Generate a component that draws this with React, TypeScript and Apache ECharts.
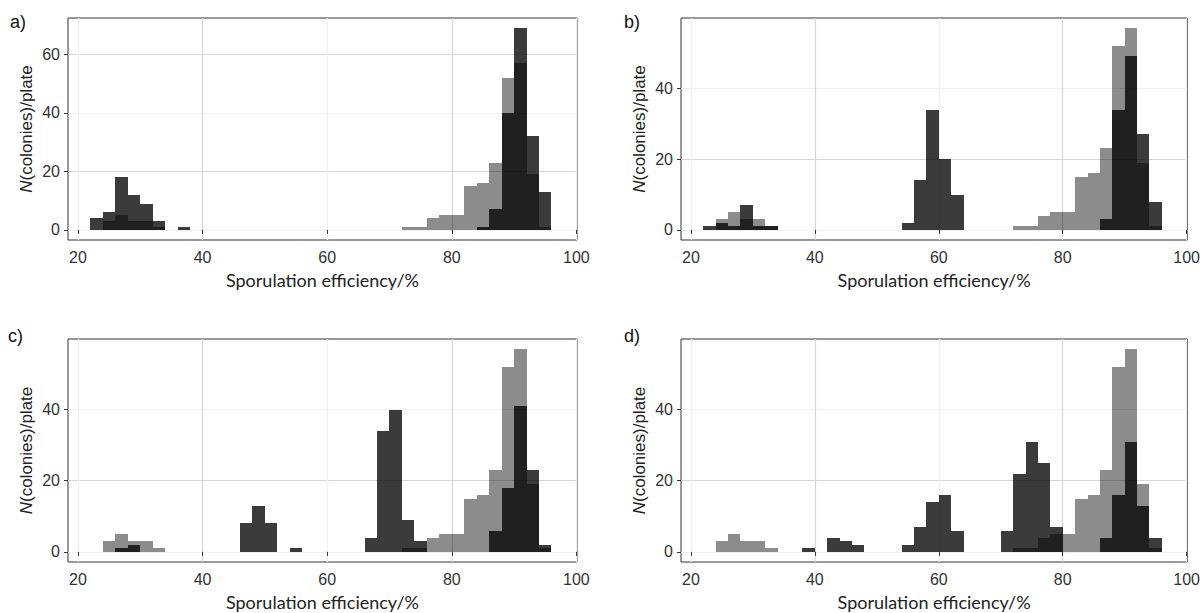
import React, { useEffect, useRef } from 'react';
import * as echarts from 'echarts';

// Histogram bins are 2 % wide; each bin is given by its left edge.
const BIN_WIDTH = 2;

// Reference distribution (light grey), identical in every panel
const referenceBins = [24, 26, 28, 30, 32, 72, 74, 76, 78, 80, 82, 84, 86, 88, 90, 92, 94];
const referenceCounts = [3, 5, 3, 3, 1, 1, 1, 4, 5, 5, 15, 16, 23, 52, 57, 19, 1];

// Panel distributions (dark)
const aBins = [22, 24, 26, 28, 30, 32, 36, 84, 86, 88, 90, 92, 94];
const aCounts = [4, 6, 18, 12, 9, 3, 1, 1, 7, 40, 69, 32, 13];
const bBins = [22, 24, 26, 28, 30, 32, 54, 56, 58, 60, 62, 86, 88, 90, 92, 94];
const bCounts = [1, 2, 1, 7, 1, 1, 2, 14, 34, 20, 10, 3, 34, 49, 27, 8];
const cBins = [26, 28, 46, 48, 50, 54, 66, 68, 70, 72, 74, 86, 88, 90, 92, 94];
const cCounts = [1, 2, 8, 13, 8, 1, 4, 34, 40, 9, 3, 6, 18, 41, 23, 2];
const dBins = [38, 42, 44, 46, 54, 56, 58, 60, 62, 70, 72, 74, 76, 78, 86, 88, 90, 92, 94];
const dCounts = [1, 4, 3, 2, 2, 7, 14, 16, 6, 6, 22, 31, 25, 7, 4, 16, 31, 13, 4];

const panelLabels = ['a)', 'b)', 'c)', 'd)'];
const xTickValues = [20, 40, 60, 80, 100];
const yTickValuesA = [0, 20, 40, 60];
const yTickValuesBCD = [0, 20, 40];
const xTitle = 'Sporulation efficiency/%';
const yTitle = '{it|N}(colonies)/plate';

const X_MIN = 18.4;
const X_MAX = 100.1;

const GREY = 'rgba(0,0,0,0.45)';
const DARK = 'rgba(0,0,0,0.77)';
const MAJOR = '#d6d6d6';
const MINOR = '#f0f0f0';
const BORDER = '#333333';

const layouts = [
  { left: 68, top: 18, width: 509, height: 222 },
  { left: 681, top: 18, width: 509, height: 222 },
  { left: 68, top: 339, width: 509, height: 223 },
  { left: 681, top: 339, width: 509, height: 223 },
];
const labelPos = [
  { x: 10, y: 13 },
  { x: 624, y: 13 },
  { x: 8, y: 327 },
  { x: 624, y: 327 },
];

const panels = [
  { bins: aBins, counts: aCounts, yTicks: yTickValuesA },
  { bins: bBins, counts: bCounts, yTicks: yTickValuesBCD },
  { bins: cBins, counts: cCounts, yTicks: yTickValuesBCD },
  { bins: dBins, counts: dCounts, yTicks: yTickValuesBCD },
];

function toRows(bins: number[], counts: number[]) {
  return bins.map((b, i) => [b, b + BIN_WIDTH, counts[i]]);
}

function rectRenderer(color: string) {
  return (params: any, api: any) => {
    const x0 = api.value(0);
    const x1 = api.value(1);
    const y = api.value(2);
    const p0 = api.coord([x0, y]);
    const p1 = api.coord([x1, 0]);
    const left = Math.round(p0[0]);
    const right = Math.round(p1[0]);
    const top = Math.round(p0[1]);
    const bottom = Math.round(p1[1]);
    return {
      type: 'rect',
      shape: { x: left, y: top, width: right - left, height: bottom - top },
      style: { fill: color },
    };
  };
}

function buildOption() {
  const grid: any[] = [];
  const xAxis: any[] = [];
  const yAxis: any[] = [];
  const series: any[] = [];
  const graphic: any[] = [];

  panels.forEach((p, i) => {
    const L = layouts[i];
    grid.push({
      left: L.left,
      top: L.top,
      width: L.width,
      height: L.height,
      show: true,
      borderColor: BORDER,
      borderWidth: 1,
      backgroundColor: 'transparent',
    });
    xAxis.push({
      gridIndex: i,
      type: 'value',
      min: X_MIN,
      max: X_MAX,
      minInterval: 10,
      maxInterval: 10,
      axisLine: { show: false },
      axisTick: { show: true, length: 4, lineStyle: { color: BORDER }, customValues: xTickValues },
      axisLabel: {
        customValues: xTickValues,
        margin: 9,
        fontSize: 16,
        color: '#333',
        fontFamily: 'Liberation Sans',
      },
      splitLine: { show: true, lineStyle: { color: [MINOR, MAJOR], width: 1.2 } },
      name: xTitle,
      nameLocation: 'middle',
      nameGap: 31,
      nameTextStyle: { fontSize: 18, fontFamily: 'Lato', color: '#222' },
    });
    const maxVal = Math.max(...p.counts, ...referenceCounts);
    yAxis.push({
      gridIndex: i,
      type: 'value',
      min: -0.05 * maxVal,
      max: 1.05 * maxVal,
      minInterval: 10,
      maxInterval: 10,
      axisLine: { show: false },
      axisTick: { show: true, length: 4, lineStyle: { color: BORDER }, customValues: p.yTicks },
      axisLabel: {
        customValues: p.yTicks,
        margin: 8,
        fontSize: 16,
        color: '#333',
        fontFamily: 'Liberation Sans',
      },
      splitLine: { show: true, lineStyle: { color: [MINOR, MAJOR], width: 1.2 } },
      name: yTitle,
      nameLocation: 'middle',
      nameGap: 33,
      nameTextStyle: {
        fontSize: 17,
        fontFamily: 'Liberation Sans',
        color: '#222',
        rich: {
          it: { fontSize: 17, fontFamily: 'Liberation Sans', fontStyle: 'italic', color: '#222' },
        },
      },
    });
    series.push({
      type: 'custom',
      name: 'reference',
      xAxisIndex: i,
      yAxisIndex: i,
      data: toRows(referenceBins, referenceCounts),
      encode: { x: [0, 1], y: 2 },
      renderItem: rectRenderer(GREY),
      silent: true,
    });
    series.push({
      type: 'custom',
      name: 'panel',
      xAxisIndex: i,
      yAxisIndex: i,
      data: toRows(p.bins, p.counts),
      encode: { x: [0, 1], y: 2 },
      renderItem: rectRenderer(DARK),
      silent: true,
    });
    graphic.push({
      type: 'text',
      left: labelPos[i].x,
      top: labelPos[i].y,
      style: { text: panelLabels[i], fontSize: 18, fontFamily: 'Liberation Sans', fill: '#111' },
    });
  });

  return {
    animation: false,
    backgroundColor: '#ffffff',
    grid,
    xAxis,
    yAxis,
    series,
    graphic,
  };
}

export default function App() {
  const ref = useRef<HTMLDivElement>(null);
  useEffect(() => {
    if (!ref.current) return;
    const chart = echarts.init(ref.current, null, { renderer: 'svg' });
    chart.setOption(buildOption() as any);
    return () => chart.dispose();
  }, []);
  return (
    <div
      ref={ref}
      style={{ position: 'absolute', left: 0, top: 0, width: 1203, height: 613 }}
    />
  );
}
